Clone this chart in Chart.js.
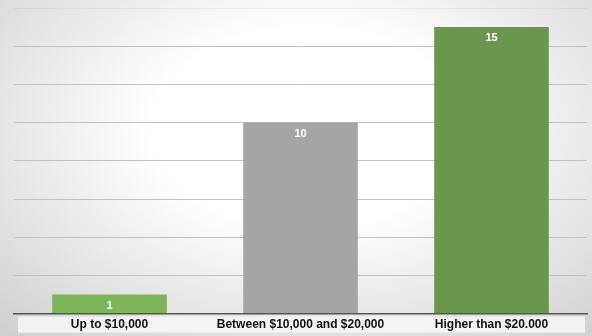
<!DOCTYPE html>
<html>
<head>
<meta charset="utf-8">
<script src="https://cdn.jsdelivr.net/npm/chart.js@4"></script>
<style>
    html, body { margin: 0; padding: 0; }
    #wrap {
        width: 592px;
        height: 336px;
        background: radial-gradient(ellipse 75% 85% at 52% 38%, #ffffff 35%, #f0f0f0 55%, #cfcfcf 100%);
    }
</style>
</head>
<body>
<div id="wrap"><canvas id="myChart" width="592" height="336"></canvas></div>
<script>
const categories = ['Up to $10,000', 'Between $10,000 and $20,000', 'Higher than $20.000'];
const counts = [1, 10, 15];
const barColors = ['#7cb55a', '#a5a5a5', '#6a964d'];
const yTicks = [0, 2, 4, 6, 8, 10, 12, 14, 16];

// light band behind the category labels
const labelBand = {
    id: 'labelBand',
    beforeDraw(chart) {
        const ctx = chart.ctx;
        const area = chart.chartArea;
        ctx.save();
        ctx.fillStyle = 'rgba(244,244,244,0.95)';
        ctx.fillRect(area.left + 4, area.bottom + 3, area.right - area.left - 6, 16);
        ctx.restore();
    }
};

// value labels inside the top of each bar
const valueLabels = {
    id: 'valueLabels',
    afterDatasetsDraw(chart) {
        const ctx = chart.ctx;
        const meta = chart.getDatasetMeta(0);
        ctx.save();
        ctx.fillStyle = '#ffffff';
        ctx.font = 'bold 11px "Liberation Sans", Arial, sans-serif';
        ctx.textAlign = 'center';
        ctx.textBaseline = 'middle';
        meta.data.forEach((bar, i) => {
            ctx.fillText(String(counts[i]), bar.x, bar.y + 11);
        });
        ctx.restore();
    }
};

const ctx = document.getElementById('myChart').getContext('2d');
window.myChart = new Chart(ctx, {
    type: 'bar',
    data: {
        labels: categories,
        datasets: [{
            data: counts,
            backgroundColor: barColors,
            borderWidth: 0,
            categoryPercentage: 1,
            barPercentage: 0.6
        }]
    },
    options: {
        responsive: false,
        animation: false,
        layout: { padding: { left: 14, right: 5, top: 8, bottom: 0 } },
        plugins: {
            legend: { display: false },
            tooltip: { enabled: false }
        },
        scales: {
            x: {
                grid: { display: false, drawTicks: false },
                border: { color: '#555555', width: 1.5 },
                ticks: {
                    color: '#111111',
                    padding: 4,
                    maxRotation: 0,
                    autoSkip: false,
                    font: { family: '"Liberation Sans", Arial, sans-serif', size: 12, weight: 'bold' }
                }
            },
            y: {
                min: yTicks[0],
                max: yTicks[yTicks.length - 1],
                afterBuildTicks(axis) {
                    axis.ticks = yTicks.map(v => ({ value: v }));
                },
                ticks: { display: false },
                border: { display: false },
                grid: {
                    color: c => c.tick.value === 16 ? 'rgba(0,0,0,0.05)' : '#c2c2c2',
                    lineWidth: 1,
                    drawTicks: false
                }
            }
        }
    },
    plugins: [labelBand, valueLabels]
});
</script>
</body>
</html>
